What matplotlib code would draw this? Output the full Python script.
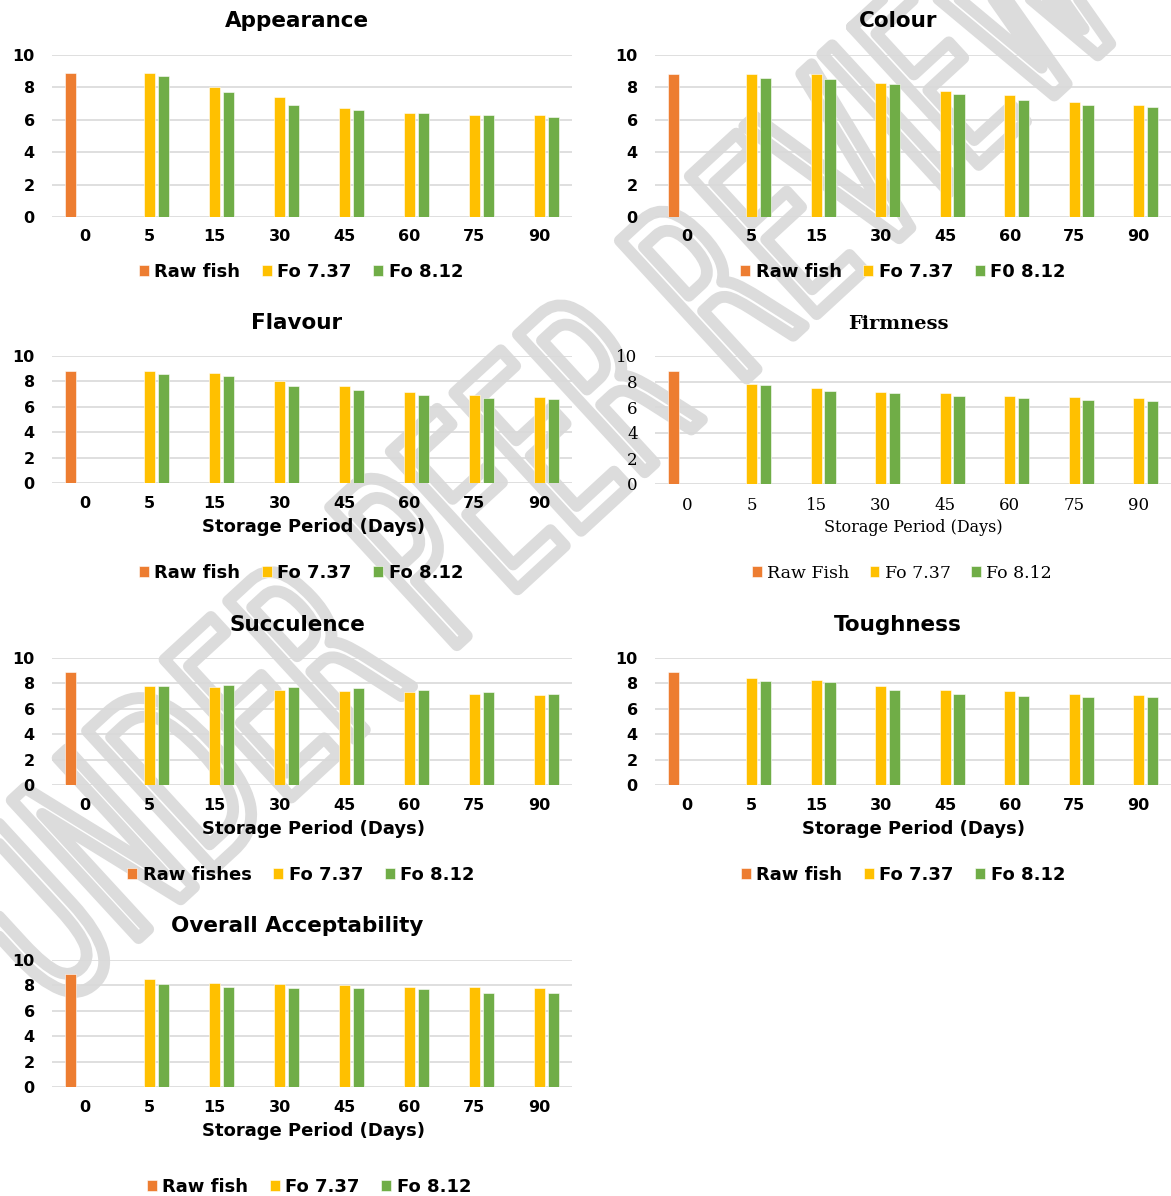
import numpy as np
import matplotlib
matplotlib.use('Agg')
import matplotlib.pyplot as plt
from matplotlib.patheffects import AbstractPathEffect
from matplotlib.transforms import Affine2D
from matplotlib.textpath import TextPath
from matplotlib.font_manager import FontProperties

days = ['0', '5', '15', '30', '45', '60', '75', '90']

# raw fish scored only on day 0, the two Fo lots from day 5 onwards
appearance_raw = 8.9
appearance_fo737 = [8.9, 8.0, 7.4, 6.7, 6.4, 6.3, 6.3]
appearance_fo812 = [8.7, 7.7, 6.9, 6.6, 6.4, 6.3, 6.2]

colour_raw = 8.8
colour_fo737 = [8.8, 8.8, 8.3, 7.8, 7.5, 7.1, 6.9]
colour_fo812 = [8.6, 8.5, 8.2, 7.6, 7.2, 6.9, 6.8]

flavour_raw = 8.8
flavour_fo737 = [8.8, 8.7, 8.0, 7.6, 7.2, 6.9, 6.8]
flavour_fo812 = [8.6, 8.4, 7.6, 7.3, 6.9, 6.7, 6.6]

firmness_raw = 8.8
firmness_fo737 = [7.8, 7.5, 7.2, 7.1, 6.9, 6.8, 6.7]
firmness_fo812 = [7.7, 7.3, 7.1, 6.9, 6.7, 6.6, 6.5]

succulence_raw = 8.9
succulence_fo737 = [7.8, 7.7, 7.5, 7.4, 7.3, 7.2, 7.1]
succulence_fo812 = [7.8, 7.9, 7.7, 7.6, 7.5, 7.3, 7.2]

toughness_raw = 8.9
toughness_fo737 = [8.4, 8.3, 7.8, 7.5, 7.4, 7.2, 7.1]
toughness_fo812 = [8.2, 8.1, 7.5, 7.2, 7.0, 6.9, 6.9]

overall_raw = 8.9
overall_fo737 = [8.5, 8.2, 8.1, 8.0, 7.9, 7.9, 7.8]
overall_fo812 = [8.1, 7.9, 7.8, 7.8, 7.7, 7.4, 7.4]

xlab = 'Storage Period (Days)'
watermark = 'UNDER PEER REVIEW'

ORANGE, YELLOW, GREEN = '#ED7D31', '#FFC000', '#70AD47'
GRID = '#D9D9D9'

W, H = 1171, 1196
fig = plt.figure(figsize=(W / 100, H / 100), dpi=100)


class Squeeze(AbstractPathEffect):
    """draw glyph outlines only, squeezed along the baseline"""
    def __init__(self, sx, lw, color):
        super().__init__()
        self.sx, self.lw, self.color = sx, lw, color

    def draw_path(self, renderer, gc, tpath, affine, rgbFace=None):
        gc0 = renderer.new_gc()
        gc0.copy_properties(gc)
        gc0.set_linewidth(self.lw)
        gc0.set_foreground(self.color)
        gc0.set_joinstyle('round')
        gc0.set_capstyle('round')
        renderer.draw_path(gc0, tpath, Affine2D().scale(self.sx, 1) + affine, None)
        gc0.restore()


# watermark, baseline from lower left to upper right, behind the charts
x0, y0, x1, y1 = 55, 1015, 1120, 35
wm_len = np.hypot(x1 - x0, y0 - y1)
wm_ang = np.degrees(np.arctan2(y0 - y1, x1 - x0))
wm_size = 185
fp = FontProperties(family='DejaVu Sans', weight='normal')
nat_len = TextPath((0, 0), watermark, size=wm_size * 100 / 72, prop=fp).get_extents().width
fig.text(x0 / W, 1 - y0 / H, watermark, fontproperties=fp, fontsize=wm_size,
         rotation=wm_ang, rotation_mode='anchor', ha='left', va='baseline', zorder=-5,
         path_effects=[Squeeze(wm_len / nat_len, 8.5, '#DCDCDC')])

# name, data, legend labels, font, (left, right, top, bottom) px, title xy, xlabel xy, legend xy
L = (52, 572)
R = (655, 1171)
panels = [
    ('Appearance', appearance_raw, appearance_fo737, appearance_fo812,
     ['Raw fish', 'Fo 7.37', 'Fo 8.12'], 'sans', L + (55, 217), (297, 21), None, (301, 272)),
    ('Colour', colour_raw, colour_fo737, colour_fo812,
     ['Raw fish', 'Fo 7.37', 'F0 8.12'], 'sans', R + (55, 217), (898, 21), None, (903, 272)),
    ('Flavour', flavour_raw, flavour_fo737, flavour_fo812,
     ['Raw fish', 'Fo 7.37', 'Fo 8.12'], 'sans', L + (356, 483), (297, 323), (313, 527), (301, 573)),
    ('Firmness', firmness_raw, firmness_fo737, firmness_fo812,
     ['Raw Fish', 'Fo 7.37', 'Fo 8.12'], 'serif', R + (356, 484), (898, 324), (913, 527), (902, 573)),
    ('Succulence', succulence_raw, succulence_fo737, succulence_fo812,
     ['Raw fishes', 'Fo 7.37', 'Fo 8.12'], 'sans', L + (658, 785), (297, 625), (313, 829), (301, 875)),
    ('Toughness', toughness_raw, toughness_fo737, toughness_fo812,
     ['Raw fish', 'Fo 7.37', 'Fo 8.12'], 'sans', R + (658, 785), (898, 625), (914, 829), (903, 875)),
    ('Overall Acceptability', overall_raw, overall_fo737, overall_fo812,
     ['Raw fish', 'Fo 7.37', 'Fo 8.12'], 'sans', L + (960, 1087), (297, 926), (313, 1131), (309, 1187)),
]

x = np.arange(len(days))
off = 0.215
bw = 0.175

for name, raw, s1, s2, labs, font, (l, r, t, b), tpos, xpos, lpos in panels:
    ax = fig.add_axes([l / W, 1 - b / H, (r - l) / W, (b - t) / H])
    ax.set_facecolor('none')
    if font == 'serif':
        fam, tw, tsz, lsz, xsz, lgsz = 'DejaVu Serif', 'normal', 14, 12, 11.5, 12.5
    else:
        fam, tw, tsz, lsz, xsz, lgsz = 'DejaVu Sans', 'bold', 15.5, 11.5, 13, 13

    h0 = ax.bar(x[0] - off, raw, bw, color=ORANGE, edgecolor='white', linewidth=0.4, label=labs[0])
    h1 = ax.bar(x[1:], s1, bw, color=YELLOW, edgecolor='white', linewidth=0.4, label=labs[1])
    h2 = ax.bar(x[1:] + off, s2, bw, color=GREEN, edgecolor='white', linewidth=0.4, label=labs[2])

    ax.set_xlim(-0.5, len(days) - 0.5)
    ax.set_ylim(0, 10)
    ax.set_yticks(range(0, 11, 2))
    ax.set_xticks(x)
    ax.set_xticklabels(days)
    for sp in ax.spines.values():
        sp.set_visible(False)
    ax.yaxis.grid(True, color=GRID, linewidth=1.2)
    ax.set_axisbelow(True)
    ax.tick_params(axis='both', length=0)
    ax.tick_params(axis='x', pad=9)
    ax.tick_params(axis='y', pad=12.5)
    for tl in ax.get_xticklabels() + ax.get_yticklabels():
        tl.set_family(fam)
        tl.set_fontweight(tw)
        tl.set_fontsize(lsz)

    ax.set_title(name, x=(tpos[0] - l) / (r - l), y=(b - tpos[1]) / (b - t), pad=0,
                 va='center', ha='center', family=fam, fontweight='bold', fontsize=tsz)
    if xpos is not None:
        ax.set_xlabel(xlab, family=fam, fontweight=tw, fontsize=xsz, va='center')
        ax.xaxis.set_label_coords((xpos[0] - l) / (r - l), (b - xpos[1]) / (b - t))

    ax.legend(handles=[h0, h1, h2], loc='center', ncol=3, frameon=False,
              bbox_to_anchor=(lpos[0] / W, 1 - lpos[1] / H), bbox_transform=fig.transFigure,
              prop={'family': fam, 'weight': tw, 'size': lgsz},
              handlelength=0.55, handleheight=0.55, handletextpad=0.3, columnspacing=1.2,
              borderpad=0, borderaxespad=0)

fig.savefig('out.png', dpi=100, facecolor='white')
